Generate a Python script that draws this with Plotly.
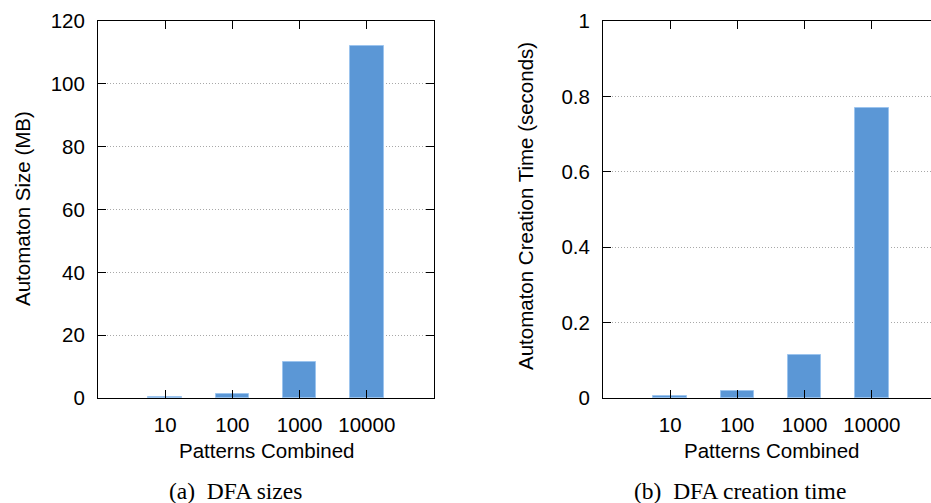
import plotly.graph_objects as go

categories = ["10", "100", "1000", "10000"]
size_mb = [0.3, 1.4, 11.5, 112.1]
time_s = [0.005, 0.019, 0.114, 0.77]
size_ticks = [0, 20, 40, 60, 80, 100, 120]
time_ticks = [0, 0.2, 0.4, 0.6, 0.8, 1]
time_ticklabels = ["0", "0.2", "0.4", "0.6", "0.8", "1"]

W, H = 931, 503
pos = [1, 2, 3, 4]

BAR = "#5b97d6"
EDGE = "#9cc4ee"
AX_FONT = dict(family="Liberation Sans, Arial, sans-serif", size=20.5, color="black")
CAP_FONT = dict(family="Liberation Serif, Times New Roman, serif", size=23.5, color="black")

fig = go.Figure()
fig.add_trace(go.Bar(x=pos, y=size_mb, width=0.5, marker=dict(color=BAR, line=dict(color=EDGE, width=1)),
                     xaxis="x", yaxis="y", showlegend=False))
fig.add_trace(go.Bar(x=pos, y=time_s, width=0.5, marker=dict(color=BAR, line=dict(color=EDGE, width=1)),
                     xaxis="x2", yaxis="y2", showlegend=False))

ydom = [1 - 398 / H, 1 - 21 / H]
common_x = dict(showline=True, linecolor="black", linewidth=1, ticks="inside", ticklen=8,
                tickcolor="black", tickfont=AX_FONT, showgrid=False, zeroline=False,
                tickvals=pos, ticktext=categories, ticklabelstandoff=8, automargin=False)
common_y = dict(showline=True, linecolor="black", linewidth=1, ticks="inside", ticklen=8,
                tickcolor="black", tickfont=AX_FONT, showgrid=True, gridcolor="#a8a8a8",
                griddash="1px,2px", gridwidth=1, zeroline=False, domain=ydom,
                ticklabelstandoff=8, automargin=False)

fig.update_layout(
    width=W, height=H, margin=dict(l=0, r=0, t=0, b=0, autoexpand=False),
    plot_bgcolor="white", paper_bgcolor="white", bargap=0,
    xaxis=dict(common_x, domain=[98 / W, 434 / W], range=[0, 5], mirror="ticks", anchor="y"),
    yaxis=dict(common_y, range=[0, 120], tickvals=size_ticks, mirror="ticks", anchor="x"),
    xaxis2=dict(common_x, domain=[603 / W, 1.0], range=[0, 4.88], mirror="ticks", anchor="y2"),
    yaxis2=dict(common_y, range=[0, 1], tickvals=time_ticks, ticktext=time_ticklabels,
                mirror=False, anchor="x2"),
)

def ann(text, x, y, font, angle=0):
    fig.add_annotation(text=text, x=x / W, y=1 - y / H, xref="paper", yref="paper",
                       showarrow=False, font=font, textangle=angle,
                       xanchor="center", yanchor="middle")

ann("Automaton Size (MB)", 22, 209, AX_FONT, -90)
ann("Automaton Creation Time (seconds)", 525, 206, AX_FONT, -90)
ann("Patterns Combined", 266, 450, AX_FONT)
ann("Patterns Combined", 771, 450, AX_FONT)
ann("(a)&#160;&#160;DFA sizes", 235, 491, CAP_FONT)
ann("(b)&#160;&#160;DFA creation time", 740, 491, CAP_FONT)

fig.write_html("out.html")
